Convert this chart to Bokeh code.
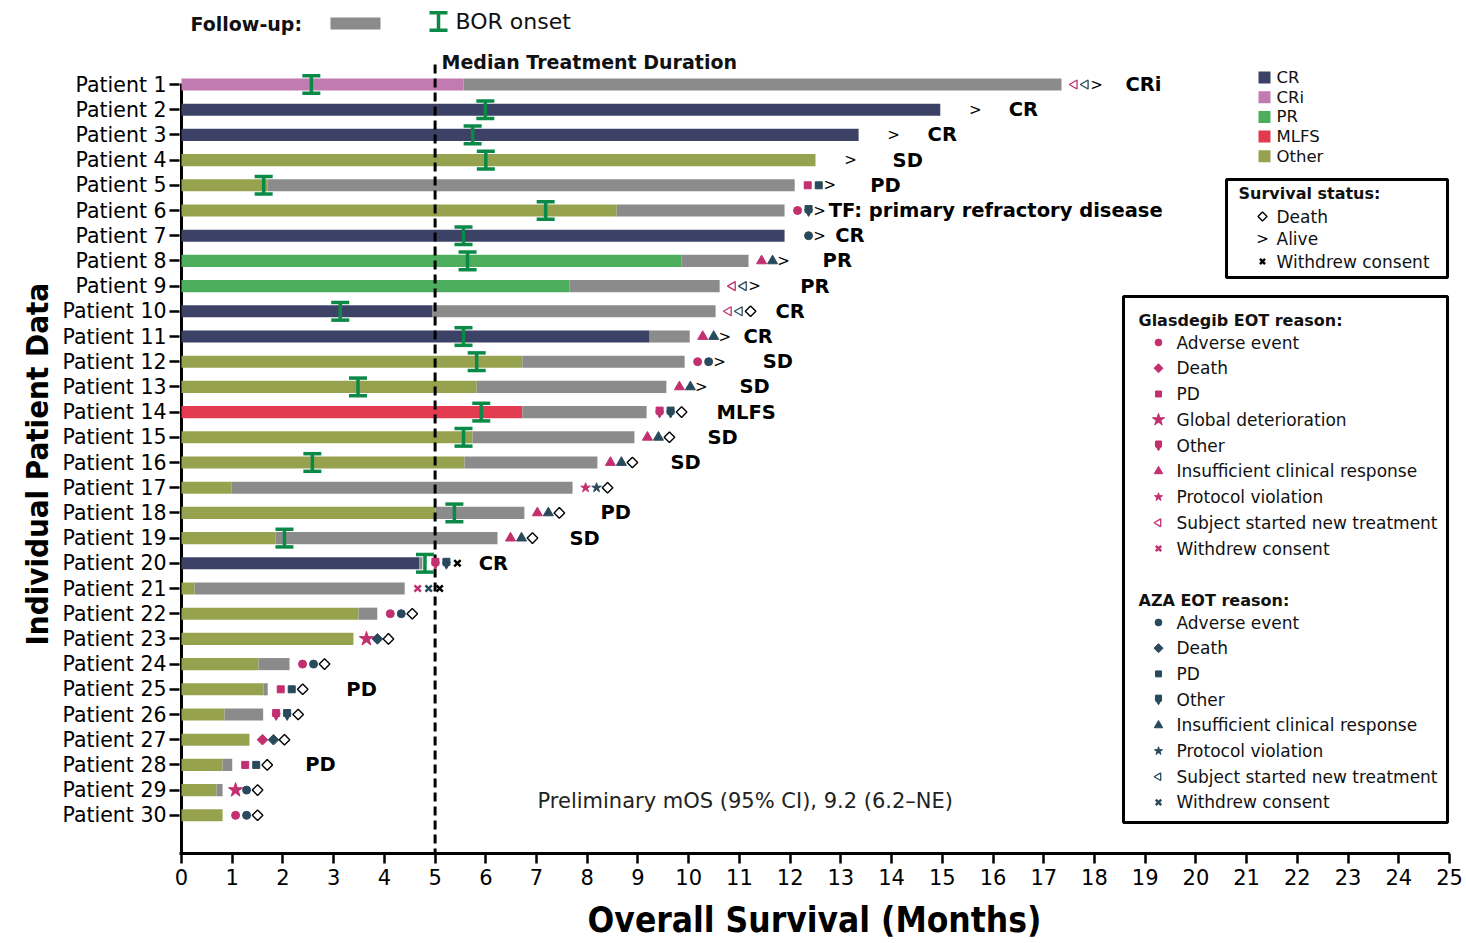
import math
from bokeh.plotting import figure
from bokeh.models import Range1d, FixedTicker, Title
from bokeh.core.properties import value
from bokeh.embed import file_html
from bokeh.resources import INLINE

# ---------------- data ----------------
patients = list(range(1, 31))
patient_labels = [f"Patient {i}" for i in patients]
response = ["CRi", "CR", "CR", "Other", "Other", "Other", "CR", "PR", "PR", "CR",
            "CR", "Other", "Other", "MLFS", "Other", "Other", "Other", "Other", "Other", "CR",
            "Other", "Other", "Other", "Other", "Other", "Other", "Other", "Other", "Other", "Other"]
trt_end = [5.56, 14.96, 13.35, 12.50, 1.70, 8.58, 11.89, 9.86, 7.65, 4.95,
           9.23, 6.72, 5.82, 6.72, 5.74, 5.58, 0.99, 5.01, 1.85, 4.69,
           0.26, 3.49, 3.39, 1.52, 1.62, 0.85, 1.34, 0.81, 0.69, 0.81]
os_end = [17.35, 14.96, 13.35, 12.50, 12.09, 11.89, 11.89, 11.18, 10.61, 10.53,
          10.02, 9.92, 9.56, 9.17, 8.93, 8.20, 7.71, 6.76, 6.23, 4.75,
          4.40, 3.86, 3.39, 2.13, 1.70, 1.61, 1.34, 1.00, 0.81, 0.81]
bor_onset = [2.56, 5.99, 5.74, 6.00, 1.62, 7.18, 5.56, 5.64, None, 3.13,
             5.56, 5.82, 3.48, 5.91, 5.56, 2.58, None, 5.38, 2.03, 4.80,
             None, None, None, None, None, None, None, None, None, None]
glas_eot = ["new", None, None, None, "pd", "ae", None, "icr", "new", "new",
            "icr", "ae", "icr", "other", "icr", "icr", "pv", "icr", "icr", "other",
            "wc", "ae", "gd", "ae", "pd", "other", "death", "pd", "gd", "ae"]
aza_eot = ["new", None, None, None, "pd", "other", "ae", "icr", "new", "new",
           "icr", "ae", "icr", "other", "icr", "icr", "pv", "icr", "icr", "other",
           "wc", "ae", "death", "ae", "pd", "other", "death", "pd", "ae", "ae"]
survival = ["alive", "alive", "alive", "alive", "alive", "alive", "alive", "alive", "alive", "dead",
            "alive", "alive", "alive", "dead", "dead", "dead", "dead", "dead", "dead", "wc",
            "wc", "dead", "dead", "dead", "dead", "dead", "dead", "dead", "dead", "dead"]
resp_text = ["CRi", "CR", "CR", "SD", "PD", "TF: primary refractory disease", "CR", "PR", "PR", "CR",
             "CR", "SD", "SD", "MLFS", "SD", "SD", "", "PD", "SD", "CR",
             "", "", "", "", "PD", "", "", "PD", "", ""]
resp_text_x = [18.61, 16.31, 14.71, 14.02, 13.58, 12.76, 12.89, 12.64, 12.20, 11.71,
               11.08, 11.46, 11.00, 10.55, 10.37, 9.64, 0, 8.26, 7.65, 5.86,
               0, 0, 0, 0, 3.25, 0, 0, 2.44, 0, 0]
median_duration = 5.0
x_ticks = list(range(0, 26))
resp_categories = ["CR", "CRi", "PR", "MLFS", "Other"]
glas_codes = ["ae", "death", "pd", "gd", "other", "icr", "pv", "new", "wc"]
glas_names = ["Adverse event", "Death", "PD", "Global deterioration", "Other",
              "Insufficient clinical response", "Protocol violation",
              "Subject started new treatment", "Withdrew consent"]
aza_codes = ["ae", "death", "pd", "other", "icr", "pv", "new", "wc"]
aza_names = ["Adverse event", "Death", "PD", "Other", "Insufficient clinical response",
             "Protocol violation", "Subject started new treatment", "Withdrew consent"]

# ---------------- style ----------------
RESP_COLORS = {"CR": "#3c4266", "CRi": "#c17bb1", "PR": "#4cae5c", "MLFS": "#e23b4f", "Other": "#97a24f"}
FOLLOW = "#8b8b8b"
BOR_C = "#0b8a47"
GLAS = "#c2306f"
AZA = "#294a5d"
SANS = "DejaVu Sans"
NARROW = "DejaVu Sans Condensed"

W, H = 1466, 943
X0PX, PXM = 181.0, 50.72      # pixel of x=0, pixels per month
Y1PX, PXR = 84.0, 25.2        # pixel of patient 1, pixels per row
FRAME_L, FRAME_R, FRAME_T, FRAME_B = 179, 1449, 0, 853


def X(px):
    return (px - X0PX) / PXM


def Y(py):
    return 1 + (py - Y1PX) / PXR


p = figure(width=W, height=H, output_backend="svg", toolbar_location=None,
           x_range=Range1d(X(FRAME_L), X(FRAME_R)), y_range=Range1d(Y(FRAME_B), Y(FRAME_T)),
           min_border_left=FRAME_L, min_border_right=W - FRAME_R,
           min_border_top=FRAME_T, min_border_bottom=H - FRAME_B)
p.outline_line_color = None
p.xgrid.visible = False
p.ygrid.visible = False
p.background_fill_color = "white"

# x axis
xa = p.xaxis[0]
xa.ticker = FixedTicker(ticks=x_ticks)
xa.axis_line_width = 3
xa.axis_line_color = "black"
xa.major_tick_out = 10
xa.major_tick_in = 0
xa.major_tick_line_width = 2.5
xa.minor_tick_line_color = None
xa.major_label_text_font = SANS
xa.major_label_text_font_size = "21px"
xa.major_label_text_color = "black"
xa.major_label_standoff = 5
xa.axis_label = "Overall Survival (Months)"
xa.axis_label_text_font = NARROW
xa.axis_label_text_font_style = "bold"
xa.axis_label_text_font_size = "35px"
xa.axis_label_text_color = "black"
xa.axis_label_standoff = 12

# y axis
ya = p.yaxis[0]
ya.ticker = FixedTicker(ticks=patients)
ya.major_label_overrides = {i: lab for i, lab in zip(patients, patient_labels)}
ya.axis_line_color = None
ya.major_tick_out = 10
ya.major_tick_in = 0
ya.major_tick_line_width = 2.5
ya.minor_tick_line_color = None
ya.major_label_text_font = SANS
ya.major_label_text_font_size = "20.5px"
ya.major_label_text_color = "black"
ya.major_label_standoff = 3
p.add_layout(Title(text="Individual Patient Data", align="left", offset=208,
                   text_font=NARROW, text_font_style="bold", text_font_size="31px",
                   text_color="black"), "left")

# y axis line drawn from patient 1 down
p.segment(x0=[0], y0=[Y(83)], x1=[0], y1=[Y(FRAME_B)], line_color="black", line_width=3)

# ---------------- bars ----------------
p.hbar(y=patients, left=[0] * 30, right=trt_end, height=0.48,
       fill_color=[RESP_COLORS[r] for r in response], line_color=None)
fy = [pt for pt, t, o in zip(patients, trt_end, os_end) if o > t]
fl = [t for t, o in zip(trt_end, os_end) if o > t]
fr = [o for t, o in zip(trt_end, os_end) if o > t]
p.hbar(y=fy, left=fl, right=fr, height=0.48, fill_color=FOLLOW, line_color=None)

# median treatment duration line
p.segment(x0=[median_duration], y0=[Y(64)], x1=[median_duration], y1=[Y(FRAME_B)],
          line_color="black", line_width=3, line_dash="9 5")

# BOR onset
by = [pt for pt, b in zip(patients, bor_onset) if b is not None]
bx = [b for b in bor_onset if b is not None]


def draw_bor(xs, ys):
    p.segment(x0=xs, y0=[y - 0.35 for y in ys], x1=xs, y1=[y + 0.35 for y in ys],
              line_color=BOR_C, line_width=3.5)
    p.scatter(xs + xs, [y - 0.35 for y in ys] + [y + 0.35 for y in ys], marker="dash",
              size=18, line_color=BOR_C, line_width=3.5)


draw_bor(bx, by)


# ---------------- markers ----------------
def draw_one(code, xs, ys, color, s=1.0):
    if not xs:
        return
    kw = dict(fill_color=color, line_color=color)
    if code == "ae":
        p.scatter(xs, ys, marker="circle", size=8 * s, **kw)
    elif code == "death":
        p.scatter(xs, ys, marker="square", size=7.5 * s, angle=math.pi / 4, **kw)
    elif code == "pd":
        p.scatter(xs, ys, marker="square", size=7 * s, **kw)
    elif code == "gd":
        p.scatter(xs, ys, marker="star", size=15 * s, **kw)
    elif code == "pv":
        p.scatter(xs, ys, marker="star", size=10 * s, **kw)
    elif code == "icr":
        p.scatter(xs, ys, marker="triangle", size=10 * s, **kw)
    elif code == "other":
        p.scatter(xs, [y - 0.06 for y in ys], marker="square", size=7 * s, **kw)
        p.scatter(xs, [y + 0.05 for y in ys], marker="inverted_triangle", size=8 * s, **kw)
    elif code == "new":
        p.scatter(xs, ys, marker="triangle", size=9 * s, angle=math.pi / 2,
                  fill_alpha=0, line_color=color, line_width=1.3)
    elif code == "wc":
        p.scatter(xs, ys, marker="x", size=9 * s, line_color=color, line_width=2.5)
    elif code == "dead":
        p.scatter(xs, ys, marker="square", size=7.5 * s, angle=math.pi / 4, fill_color="white",
                  line_color="black", line_width=1.4)
    elif code == "alive":
        p.text(xs, ys, text=[">"] * len(xs), text_font=value(SANS),
               text_font_size=value(f"{int(15 * s)}px"), text_align="center",
               text_baseline="middle", text_color="black")


def draw_codes(xs, ys, codes, color, s=1.0):
    groups = {}
    for x, y, c in zip(xs, ys, codes):
        if c is None:
            continue
        groups.setdefault(c, ([], []))
        groups[c][0].append(x)
        groups[c][1].append(y)
    for c, (gx, gy) in groups.items():
        draw_one(c, gx, gy, color, s)


SLOT = [X(X0PX + 13), X(X0PX + 24), X(X0PX + 35)]
draw_codes([o + SLOT[0] for o in os_end], patients, glas_eot, GLAS)
draw_codes([o + SLOT[1] for o in os_end], patients, aza_eot, AZA)
draw_codes([o + SLOT[2] for o in os_end], patients, survival, "black")

# response labels
ly = [pt for pt, t in zip(patients, resp_text) if t]
lx = [x for x, t in zip(resp_text_x, resp_text) if t]
lt = [t for t in resp_text if t]
p.text(lx, ly, text=lt, text_font=value(SANS), text_font_style="bold",
       text_font_size=value("19.5px"), text_baseline="middle", text_color="black")

# median text
p.text([X(441)], [Y(61)], text=["Median Treatment Duration"], text_font=value(SANS),
       text_font_style="bold", text_font_size=value("19px"), text_baseline="middle",
       text_color="#111111")

# mOS annotation
p.text([X(537)], [Y(800)], text=["Preliminary mOS (95% CI), 9.2 (6.2\u2013NE)"],
       text_font=value(SANS), text_font_size=value("21px"), text_baseline="middle",
       text_color="#222222")

# ---------------- top legend ----------------
p.text([X(190)], [Y(23)], text=["Follow-up:"], text_font=value(SANS), text_font_style="bold",
       text_font_size=value("19px"), text_baseline="middle", text_color="#111111")
p.quad(left=[X(330)], right=[X(380)], top=[Y(17)], bottom=[Y(29)], fill_color=FOLLOW, line_color=None)
draw_bor([X(438)], [Y(21)])
p.text([X(455)], [Y(21)], text=["BOR onset"], text_font=value(SANS),
       text_font_size=value("22px"), text_baseline="middle", text_color="#111111")

# ---------------- response colour legend ----------------
ry = [Y(77 + 19.7 * k) for k in range(len(resp_categories))]
p.scatter([X(1264)] * len(ry), ry, marker="square", size=12,
          fill_color=[RESP_COLORS[c] for c in resp_categories], line_color=None)
p.text([X(1276)] * len(ry), ry, text=resp_categories, text_font=value(SANS),
       text_font_size=value("16.5px"), text_baseline="middle", text_color="#111111")

# ---------------- survival status box ----------------
p.quad(left=[X(1226)], right=[X(1447)], top=[Y(179)], bottom=[Y(277)], fill_color="white",
       fill_alpha=0, line_color="black", line_width=3)
p.text([X(1238)], [Y(193)], text=["Survival status:"], text_font=value(SANS), text_font_style="bold",
       text_font_size=value("16px"), text_baseline="middle", text_color="#111111")
sy = [Y(216), Y(238), Y(261)]
draw_one("dead", [X(1262)], [sy[0]], "black", 0.85)
draw_one("alive", [X(1262)], [sy[1]], "black", 1.0)
draw_one("wc", [X(1262)], [sy[2]], "black", 0.8)
p.text([X(1276)] * 3, sy, text=["Death", "Alive", "Withdrew consent"], text_font=value(SANS),
       text_font_size=value("17px"), text_baseline="middle", text_color="#111111")

# ---------------- EOT reason box ----------------
p.quad(left=[X(1123)], right=[X(1447)], top=[Y(296)], bottom=[Y(822)], fill_color="white",
       fill_alpha=0, line_color="black", line_width=3)
p.text([X(1138), X(1138)], [Y(320), Y(600)], text=["Glasdegib EOT reason:", "AZA EOT reason:"],
       text_font=value(SANS), text_font_style="bold", text_font_size=value("16px"),
       text_baseline="middle", text_color="#111111")
gy = [Y(342 + 25.75 * k) for k in range(len(glas_codes))]
for c, yy in zip(glas_codes, gy):
    draw_one(c, [X(1158)], [yy], GLAS, 0.85)
p.text([X(1176)] * len(gy), gy, text=glas_names, text_font=value(SANS),
       text_font_size=value("17px"), text_baseline="middle", text_color="#111111")
ay = [Y(622 + 25.7 * k) for k in range(len(aza_codes))]
for c, yy in zip(aza_codes, ay):
    draw_one(c, [X(1158)], [yy], AZA, 0.85)
p.text([X(1176)] * len(ay), ay, text=aza_names, text_font=value(SANS),
       text_font_size=value("17px"), text_baseline="middle", text_color="#111111")

open("out.html", "w").write(file_html(p, INLINE))
